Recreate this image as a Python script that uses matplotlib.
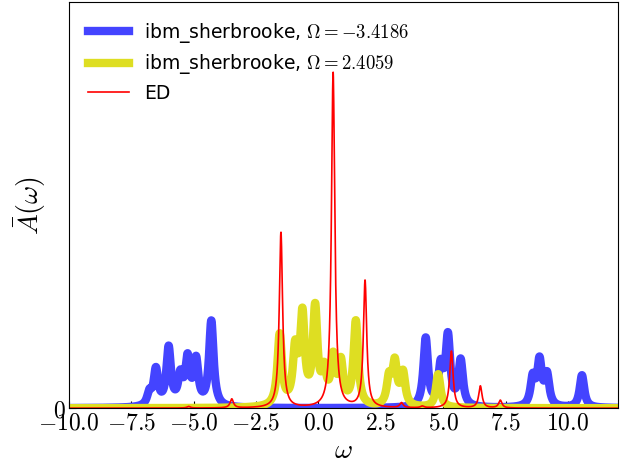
import numpy as np
import matplotlib
matplotlib.use('Agg')
import matplotlib.pyplot as plt

plt.rcParams['mathtext.fontset'] = 'cm'
plt.rcParams['font.family'] = ['DejaVu Sans']

# peak positions (omega) and heights
blue_centers = [-6.77, -6.51, -6.00, -5.53, -5.24, -4.90, -4.29,
                4.30, 4.90, 5.19, 5.70, 8.59, 8.86, 9.16, 10.56]
blue_heights = [0.030, 0.088, 0.142, 0.068, 0.110, 0.108, 0.210,
                0.168, 0.092, 0.168, 0.112, 0.068, 0.108, 0.075, 0.080]

yellow_centers = [-1.55, -0.93, -0.64, -0.13, 0.23, 0.59, 0.90, 1.50,
                  2.83, 3.06, 3.39, 4.80]
yellow_heights = [0.175, 0.130, 0.215, 0.235, 0.075, 0.110, 0.100, 0.208,
                  0.065, 0.102, 0.080, 0.082]

ed_centers = [-5.20, -3.47, -1.50, 0.59, 1.87, 3.33, 4.16, 5.33, 6.49, 7.29]
ed_heights = [0.004, 0.022, 0.432, 0.826, 0.312, 0.012, 0.004, 0.140, 0.054, 0.019]

xticks = [-10.0, -7.5, -5.0, -2.5, 0.0, 2.5, 5.0, 7.5, 10.0]
labels = ['ibm_sherbrooke, $\\Omega=-3.4186$',
          'ibm_sherbrooke, $\\Omega=2.4059$',
          'ED']


def spectrum(w, centers, heights, gamma):
    total = np.zeros_like(w)
    for c, h in zip(centers, heights):
        total += h * gamma**2 / ((w - c)**2 + gamma**2)
    return total


w = np.linspace(-10, 12, 3000)
a_blue = spectrum(w, blue_centers, blue_heights, 0.11)
a_yellow = spectrum(w, yellow_centers, yellow_heights, 0.11)
a_ed = spectrum(w, ed_centers, ed_heights, 0.08)

fig = plt.figure(figsize=(6.37, 4.66), dpi=100)
ax = fig.add_axes([0.108, 0.124, 0.862, 0.872])

ax.plot(w, a_blue, color='#4444ff', lw=6, label=labels[0])
ax.plot(w, a_yellow, color='#dede22', lw=6, label=labels[1])
ax.plot(w, a_ed, color='red', lw=1.2, label=labels[2])

ax.set_xlim(-10, 12)
ax.set_ylim(0, 1.0)
ax.set_xticks(xticks)
ax.set_xticklabels(['$%.1f$' % t for t in xticks], fontsize=17)
ax.set_yticks([0])
ax.set_yticklabels(['$0$'], fontsize=17)
ax.tick_params(direction='in', length=5, pad=2)

ax.set_xlabel('$\\omega$', fontsize=20, labelpad=1)
ax.set_ylabel('$\\bar{A}(\\omega)$', fontsize=20, labelpad=4)

# legend text a touch bigger so the math part matches
ax.legend(loc='upper left', frameon=False, fontsize=13.5,
          handlelength=2.2, labelspacing=0.4, borderaxespad=0.6)

fig.savefig('out.png', dpi=100)
